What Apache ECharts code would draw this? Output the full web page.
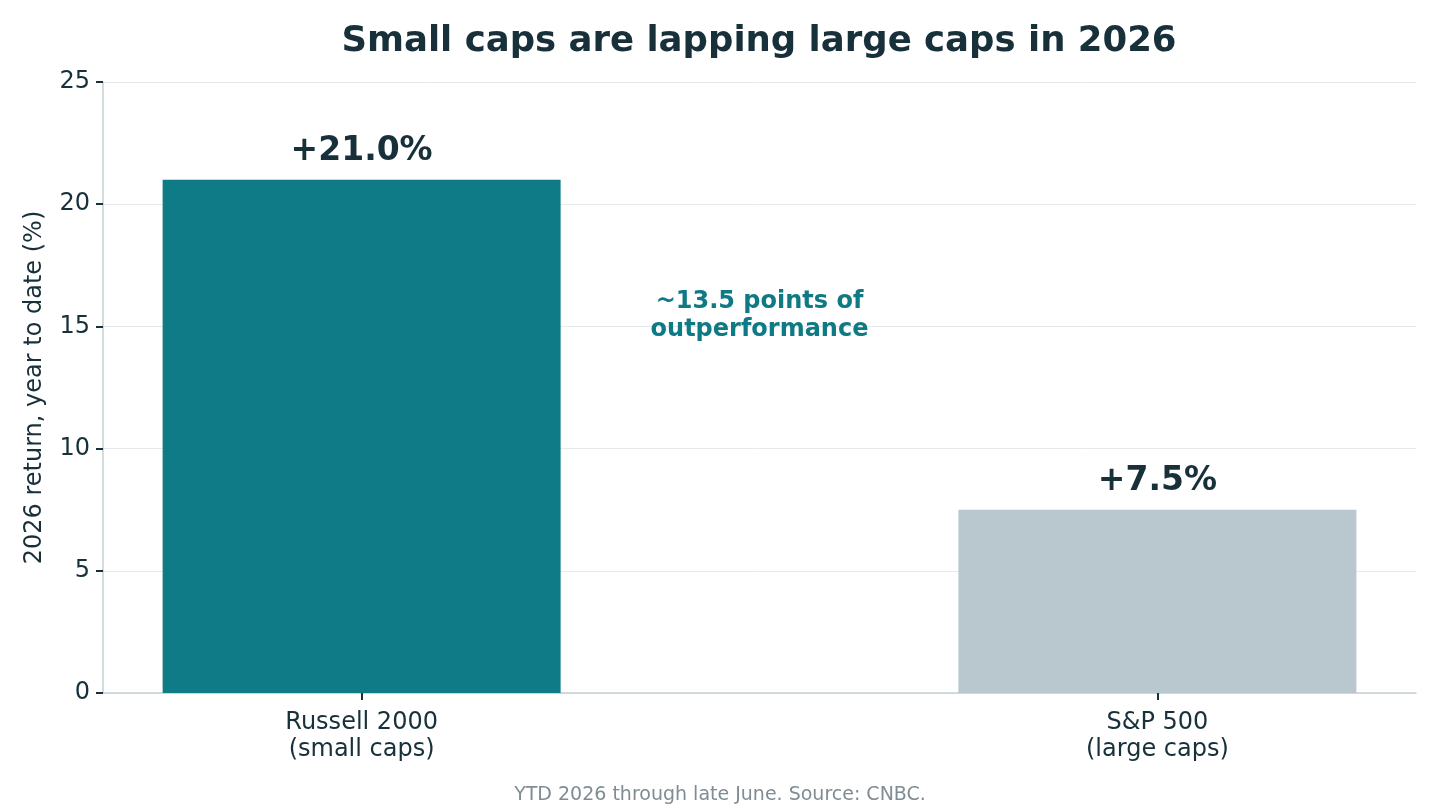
<!DOCTYPE html>
<html>
<head>
<meta charset="utf-8">
<script src="https://cdn.jsdelivr.net/npm/echarts@6/dist/echarts.min.js"></script>
<style>html,body{margin:0;padding:0;background:#fff}#c{width:1440px;height:809px}</style>
</head>
<body>
<div id="c"></div>
<script>
const categories = ["Russell 2000\n(small caps)", "S&P 500\n(large caps)"];
const values = [21.0, 7.5];
const barColors = ["#0f7b86", "#b9c7ce"];
const valueLabels = ["+21.0%", "+7.5%"];
const yTicks = [0, 5, 10, 15, 20, 25];
const annotationText = "~13.5 points of\noutperformance";
const annotationPos = [0.5, 15.45];

const FONT = "DejaVu Sans";
const DARK = "#17303a";
const chart = echarts.init(document.getElementById('c'), null, {renderer: 'canvas'});
const positions = categories.map((_, i) => i);

chart.setOption({
  animation: false,
  backgroundColor: '#fff',
  textStyle: {fontFamily: FONT},
  title: {
    text: 'Small caps are lapping large caps in 2026',
    left: 754, top: 19, textAlign: 'center',
    textStyle: {fontFamily: FONT, fontSize: 35.5, fontWeight: 'bold', color: DARK}
  },
  graphic: [{
    type: 'text', left: 'center', top: 786,
    style: {text: 'YTD 2026 through late June. Source: CNBC.', fill: '#7f8c93', font: '19px "DejaVu Sans"'}
  }],
  grid: {left: 103, right: 24, top: 82, bottom: 116, containLabel: false},
  xAxis: {
    type: 'value', min: -0.325, max: 1.325,
    axisLine: {show: true, onZero: false, lineStyle: {color: '#c5d0d5', width: 1.5}},
    splitLine: {show: false},
    axisTick: {show: true, customValues: positions, length: 7, lineStyle: {color: DARK, width: 2}},
    axisLabel: {
      customValues: positions, margin: 16, color: DARK, fontSize: 24, fontFamily: FONT, lineHeight: 27,
      formatter: v => categories[Math.round(v)] || ''
    }
  },
  yAxis: {
    type: 'value', min: 0, max: 25, interval: 5,
    name: '2026 return, year to date (%)', nameLocation: 'middle', nameGap: 56,
    nameTextStyle: {fontFamily: FONT, fontSize: 24, color: DARK},
    axisLine: {show: true, onZero: false, lineStyle: {color: '#c5d0d5', width: 1.5}},
    axisTick: {show: true, length: 7, lineStyle: {color: DARK, width: 2}},
    axisLabel: {
      color: DARK, fontSize: 24, fontFamily: FONT, margin: 13, padding: [4, 0, 0, 0],
      customValues: yTicks
    },
    splitLine: {show: true, lineStyle: {color: '#e4e9eb', width: 1}}
  },
  series: [{
    type: 'bar',
    barWidth: 398,
    data: values.map((v, i) => ({
      value: [positions[i], v],
      itemStyle: {color: barColors[i]},
      label: {formatter: valueLabels[i]}
    })),
    label: {
      show: true, position: 'top', distance: 12,
      fontFamily: FONT, fontSize: 33, fontWeight: 'bold', color: DARK
    },
    z: 3
  }, {
    type: 'scatter',
    symbolSize: 0,
    itemStyle: {opacity: 1},
    data: [annotationPos],
    silent: true,
    label: {
      show: true, position: 'inside', formatter: annotationText,
      fontFamily: FONT, fontSize: 24, fontWeight: 'bold', color: '#0e7a84', opacity: 1,
      lineHeight: 28, align: 'center', verticalAlign: 'middle'
    }
  }]
});
</script>
</body>
</html>
